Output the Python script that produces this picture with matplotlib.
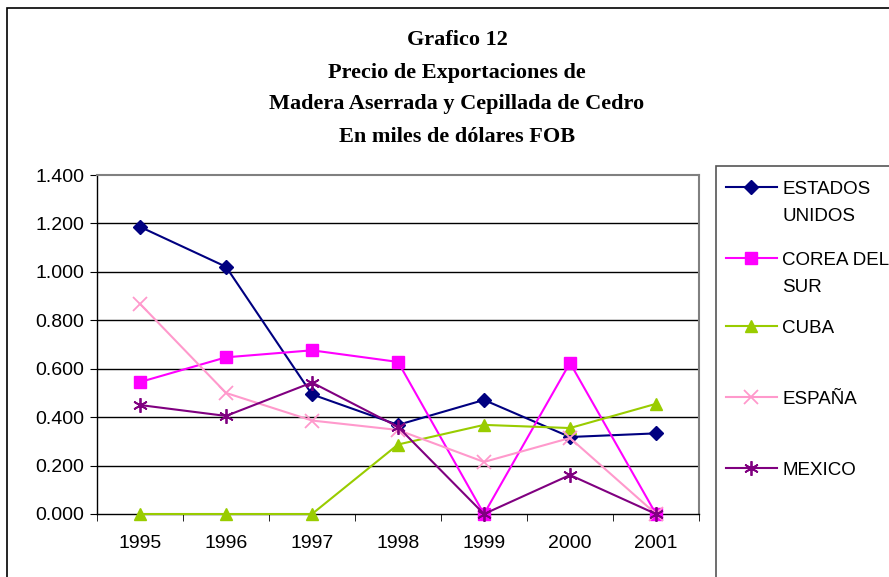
import matplotlib
matplotlib.use("Agg")
import matplotlib.pyplot as plt
from matplotlib.lines import Line2D
from matplotlib.patches import Rectangle

years = ["1995", "1996", "1997", "1998", "1999", "2000", "2001"]
estados_unidos = [1.186, 1.021, 0.494, 0.368, 0.471, 0.318, 0.333]
corea_del_sur = [0.545, 0.647, 0.676, 0.628, 0.0, 0.624, 0.0]
cuba = [0.0, 0.0, 0.0, 0.287, 0.368, 0.355, 0.455]
espana = [0.868, 0.500, 0.386, 0.347, 0.215, 0.314, 0.0]
mexico = [0.450, 0.405, 0.543, 0.360, 0.0, 0.161, 0.0]
y_ticks = [0.0, 0.2, 0.4, 0.6, 0.8, 1.0, 1.2, 1.4]
y_labels = ["0.000", "0.200", "0.400", "0.600", "0.800", "1.000", "1.200", "1.400"]
labels = ["ESTADOS\nUNIDOS", "COREA DEL\nSUR", "CUBA", "ESPAÑA", "MEXICO"]
title_lines = ["Grafico 12", "Precio de Exportaciones de",
               "Madera Aserrada y Cepillada de Cedro", "En miles de dólares FOB"]

series = [estados_unidos, corea_del_sur, cuba, espana, mexico]
colors = ["#000080", "#FF00FF", "#99CC00", "#FF99CC", "#800080"]
markers = ["D", "s", "^", "x", (6, 2, 0)]
msizes = [7, 8, 9, 9.5, 10.5]
mews = [1, 1, 1, 1.3, 1.3]

W, H = 889, 577
fig = plt.figure(figsize=(W / 100, H / 100), dpi=100)
fig.patch.set_facecolor("white")

ax = fig.add_axes([97 / W, (H - 514) / H, (699 - 97) / W, (514 - 175) / H])
x = list(range(len(years)))
for vals, c, m, ms, mw in zip(series, colors, markers, msizes, mews):
    ax.plot(x, vals, color=c, marker=m, markersize=ms, markeredgewidth=mw,
            markerfacecolor=c, markeredgecolor=c, lw=1.5, clip_on=False, zorder=3)

ax.set_xlim(-0.5, len(years) - 0.5)
ax.set_ylim(0, 1.4)
ax.set_yticks(y_ticks)
ax.set_yticklabels(y_labels, fontsize=14, family="Liberation Sans")
ax.set_xticks(x)
ax.set_xticklabels(years, fontsize=14, family="Liberation Sans")
ax.set_xticks([i - 0.5 for i in range(len(years) + 1)], minor=True)
ax.tick_params(axis="x", which="major", length=0, pad=15)
ax.tick_params(axis="x", which="minor", length=5, direction="out", color="black")
ax.tick_params(axis="y", length=5, direction="out", color="black", pad=4)
for yv in y_ticks[1:-1]:
    ax.axhline(yv, color="black", lw=1, zorder=1)
for s in ["top", "right"]:
    ax.spines[s].set_color("#808080")
    ax.spines[s].set_linewidth(1.5)
for s in ["left", "bottom"]:
    ax.spines[s].set_color("black")
    ax.spines[s].set_linewidth(1)

# title
ty = [40, 73, 104, 137]
for t, yy in zip(title_lines, ty):
    fig.text(457 / W, 1 - yy / H, t, ha="center", va="center", fontsize=16,
             fontweight="bold", family="Liberation Serif")

# outer frame
fig.add_artist(Rectangle((7 / W, -0.1), 1.2, 1 - 8 / H + 0.1, transform=fig.transFigure,
                         fill=False, edgecolor="black", lw=1.2))
# legend frame
fig.add_artist(Rectangle((716 / W, -0.1), 1.2, 1 - 166 / H + 0.1, transform=fig.transFigure,
                         fill=False, edgecolor="#555555", lw=1.2))
leg_y = [187, 258, 326, 397, 468]
for lab, c, m, ms, mw, yy in zip(labels, colors, markers, msizes, mews, leg_y):
    fy = 1 - yy / H
    fig.add_artist(Line2D([726 / W, 777 / W], [fy, fy], transform=fig.transFigure,
                          color=c, lw=1.5))
    fig.add_artist(Line2D([751 / W], [fy], transform=fig.transFigure, color=c,
                          marker=m, markersize=ms, markeredgewidth=mw,
                          markerfacecolor=c, markeredgecolor=c))
    fig.text(782 / W, fy + 6 / H, lab, ha="left", va="top", fontsize=13.5,
             family="Liberation Sans", linespacing=1.75)

fig.savefig("out.png", dpi=100)
